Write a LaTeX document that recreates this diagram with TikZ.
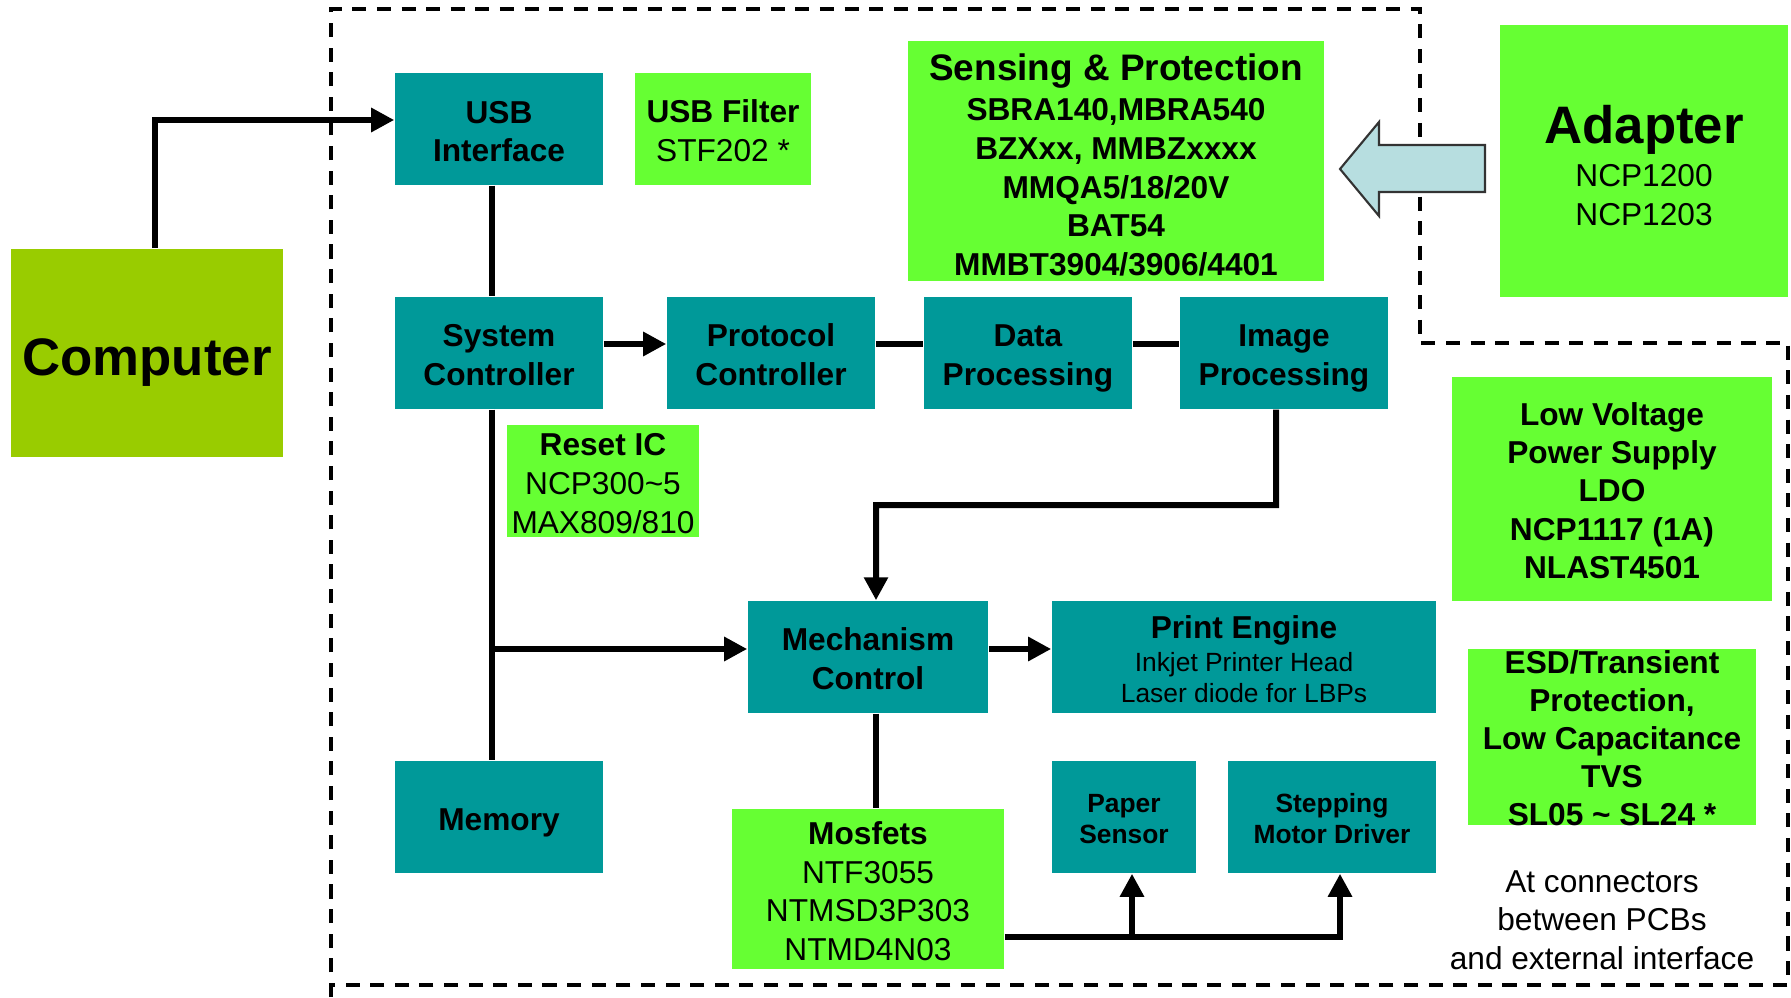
\documentclass[tikz,border=0pt]{standalone}
\usepackage{fontspec}
\setmainfont{Liberation Sans}
\usepackage{tikz}
\usetikzlibrary{arrows.meta}

\definecolor{tealbox}{HTML}{009999}
\definecolor{partgreen}{HTML}{66FF33}
\definecolor{pcgreen}{HTML}{99CC00}
\definecolor{adpblue}{HTML}{B7DEE0}

% taller first line, so the text sits a little lower in its box
\newcommand{\capfix}[1][7.3pt]{\rule{0pt}{#1}}

\begin{document}
\begin{tikzpicture}[x=0.01cm, y=-0.01cm,
    blk/.style={fill=tealbox, minimum width=2.08cm, minimum height=1.12cm, inner sep=0pt, text depth=0pt,
      align=center, font=\fontsize{9}{11}\selectfont\bfseries},
    part/.style={fill=partgreen, inner sep=0pt, text depth=0pt, align=center,
      font=\fontsize{9}{11}\selectfont},
    ln/.style={line width=0.06cm},
    arr/.style={ln, -{Triangle[length=0.23cm,width=0.23cm]}}]
   \useasboundingbox (0,0) rectangle (1791,997);

   % board outline
   \draw[line width=1pt, dash pattern=on 4pt off 3pt] (331,997) -- (331,9) -- (1420,9) -- (1420,343)
      -- (1788,343) -- (1788,985) -- (331,985);

   \node[fill=pcgreen, minimum width=2.72cm, minimum height=2.08cm, text depth=0pt,
      font=\fontsize{15}{18}\selectfont\bfseries] (comp) at (147,353) {\capfix[12.7pt]Computer};

   \node[blk] (usb) at (499,129) {\capfix[7.6pt]USB\\Interface};
   \node[part, minimum width=1.76cm, minimum height=1.12cm] (filt) at (723,129) {\capfix\textbf{USB Filter}\\STF202 *};
   \node[part, minimum width=4.16cm, minimum height=2.40cm, font=\fontsize{9}{11}\selectfont\bfseries] (sens) at (1116,161)
      {\capfix[9.6pt]{\fontsize{10.5}{12}\selectfont Sensing \& Protection}\\[0.5pt]SBRA140,MBRA540\\BZXxx, MMBZxxxx\\MMQA5/18/20V\\BAT54\\MMBT3904/3906/4401};
   \node[part, minimum width=2.88cm, minimum height=2.72cm] (adp) at (1644,161)
      {\capfix[13.3pt]{\fontsize{15}{18}\selectfont\bfseries Adapter}\\[1.4pt]NCP1200\\NCP1203};

   \node[blk] (sys) at (499,353) {\capfix System\\Controller};
   \node[blk] (prot) at (771,353) {\capfix Protocol\\Controller};
   \node[blk] (data) at (1028,353) {\capfix Data\\Processing};
   \node[blk] (img) at (1284,353) {\capfix Image\\Processing};

   \node[part, minimum width=1.92cm, minimum height=1.12cm] (rst) at (603,481) {\capfix[7.6pt]\textbf{Reset IC}\\NCP300\textasciitilde5\\MAX809/810};

   \node[blk, minimum width=2.40cm] (mech) at (868,657) {\capfix Mechanism\\Control};
   \node[blk, minimum width=3.84cm, font=\fontsize{7.5}{8.9}\selectfont] (pe) at (1244,657)
      {\capfix[7.6pt]{\fontsize{9}{11}\selectfont\bfseries Print Engine}\\[0.4pt]Inkjet Printer Head\\Laser diode for LBPs};

   \node[blk] (mem) at (499,817) {\capfix[7.6pt]Memory};
   \node[part, minimum width=2.72cm, minimum height=1.60cm] (mos) at (868,889) {\capfix[7.6pt]\textbf{Mosfets}\\NTF3055\\NTMSD3P303\\NTMD4N03};
   \node[blk, minimum width=1.44cm, font=\fontsize{7.5}{8.8}\selectfont\bfseries] (paper) at (1124,817) {\capfix[6.1pt]Paper\\Sensor};
   \node[blk, font=\fontsize{7.5}{8.8}\selectfont\bfseries] (step) at (1332,817) {\capfix[6.1pt]Stepping\\Motor Driver};

   \node[part, minimum width=3.20cm, minimum height=2.24cm, font=\fontsize{9}{10.9}\selectfont\bfseries] (ldo) at (1612,489)
      {\capfix Low Voltage\\Power Supply\\LDO\\NCP1117 (1A)\\NLAST4501};
   \node[fill=partgreen, minimum width=2.87cm, minimum height=1.75cm] (esd) at (1612,737) {};
   \node[inner sep=0pt, text depth=0pt, align=center, font=\fontsize{9}{10.8}\selectfont\bfseries] (esdtxt) at (esd)
      {\capfix ESD/Transient\\Protection,\\Low Capacitance\\TVS\\SL05 \textasciitilde{} SL24 *};
   \node[inner sep=0pt, align=center, font=\fontsize{9}{11}\selectfont] (note) at (1602,920)
      {At connectors\\between PCBs\\and external interface};

   % adapter feed
   \filldraw[fill=adpblue, draw=black!80, line width=0.6pt] (1340,169) -- (1379,122) -- (1379,145) -- (1485,145)
      -- (1485,192) -- (1379,192) -- (1379,216) -- cycle;

   \coordinate (bend) at (876,505);
   \coordinate (tap) at (492,649);
   \coordinate (bus) at (1340,937);

   \draw[arr] ([xshift=0.08cm]comp.north) |- ([yshift=0.09cm]usb.west);
   \draw[ln] ([xshift=-0.07cm]usb.south) -- ([xshift=-0.07cm]sys.north);
   \draw[arr] ([yshift=0.09cm]sys.east) -- ([yshift=0.09cm]prot.west);
   \draw[ln] ([yshift=0.09cm]prot.east) -- ([yshift=0.09cm]data.west);
   \draw[ln] ([yshift=0.09cm]data.east) -- ([yshift=0.09cm]img.west);
   \draw[arr] ([xshift=-0.08cm]img.south) |- (bend) -- ([xshift=0.08cm]mech.north);
   \draw[ln] ([xshift=-0.07cm]sys.south) -- ([xshift=-0.07cm]mem.north);
   \draw[arr] (tap) -- (tap -| mech.west);
   \draw[arr] ([yshift=0.08cm]mech.east) -- ([yshift=0.08cm]pe.west);
   \draw[ln] ([xshift=0.08cm]mech.south) -- ([xshift=0.08cm]mech.south |- mos.north);
   \draw[arr] (mos.east |- bus) -| ([xshift=0.08cm]step.south);
   \draw[arr] ([xshift=0.08cm]paper.south |- bus) -- ([xshift=0.08cm]paper.south);
\end{tikzpicture}
\end{document}
